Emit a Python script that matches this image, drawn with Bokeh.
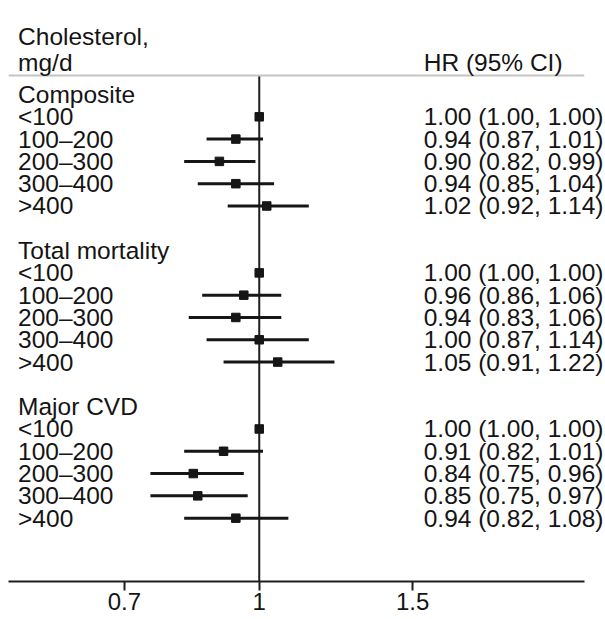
from bokeh.plotting import figure
from bokeh.models import Range1d, FixedTicker, Span, ColumnDataSource
from bokeh.core.properties import value
from bokeh.embed import file_html
from bokeh.resources import INLINE

# ---- data ----
groups = ["Composite", "Total mortality", "Major CVD"]
levels = ["<100", "100–200", "200–300", "300–400", ">400"]
hr_composite = [1.00, 0.94, 0.90, 0.94, 1.02]
lo_composite = [1.00, 0.87, 0.82, 0.85, 0.92]
hi_composite = [1.00, 1.01, 0.99, 1.04, 1.14]
hr_mortality = [1.00, 0.96, 0.94, 1.00, 1.05]
lo_mortality = [1.00, 0.86, 0.83, 0.87, 0.91]
hi_mortality = [1.00, 1.06, 1.06, 1.14, 1.22]
hr_cvd = [1.00, 0.91, 0.84, 0.85, 0.94]
lo_cvd = [1.00, 0.82, 0.75, 0.75, 0.82]
hi_cvd = [1.00, 1.01, 0.96, 0.97, 1.08]
x_ticks = [0.7, 1, 1.5]
tick_labels = ["0.7", "1", "1.5"]
header_left = ["Cholesterol,", "mg/d"]
header_right = "HR (95% CI)"

series = [(hr_composite, lo_composite, hi_composite),
          (hr_mortality, lo_mortality, hi_mortality),
          (hr_cvd, lo_cvd, hi_cvd)]

# ---- layout constants ----
FONT = "Liberation Sans"
FS = "24.5px"
TXT = "#141414"
LEFT_X = 0.5286     # x position (data) of left label column
RIGHT_X = 1.5445    # x position (data) of HR column
LINE_Y = -0.85      # header rule
Y_BOTTOM = 21.84
Y_TOP = -4.215

# build rows
title_y, title_txt = [], []
lvl_y, lvl_txt, hr_v, lo_v, hi_v, hr_txt = [], [], [], [], [], []
for g, name in enumerate(groups):
    base = 7 * g
    title_y.append(base)
    title_txt.append(name)
    hr, lo, hi = series[g]
    for i, lv in enumerate(levels):
        lvl_y.append(base + 1 + i)
        lvl_txt.append(lv)
        hr_v.append(hr[i]); lo_v.append(lo[i]); hi_v.append(hi[i])
        hr_txt.append(f"{hr[i]:.2f} ({lo[i]:.2f}, {hi[i]:.2f})")

rows = ColumnDataSource(dict(y=lvl_y, lab=lvl_txt, hr=hr_v, lo=lo_v, hi=hi_v,
                             hrt=hr_txt, lx=[LEFT_X] * len(lvl_y), rx=[RIGHT_X] * len(lvl_y)))
titles = ColumnDataSource(dict(y=title_y, lab=title_txt, lx=[LEFT_X] * len(title_y)))

p = figure(width=605, height=619, x_axis_type="log",
           x_range=Range1d(0.5154, 2.3626), y_range=Range1d(Y_BOTTOM, Y_TOP),
           output_backend="svg", toolbar_location=None,
           min_border_left=8, min_border_right=21, min_border_top=0, min_border_bottom=38)
p.outline_line_color = None
p.grid.visible = False
p.yaxis.visible = False
p.background_fill_color = "white"
p.border_fill_color = "white"

ax = p.xaxis[0]
ax.ticker = FixedTicker(ticks=x_ticks)
ax.major_label_overrides = {t: l for t, l in zip(x_ticks, tick_labels)}
ax.minor_tick_line_color = None
ax.major_tick_out = 9
ax.major_tick_in = 0
ax.major_tick_line_width = 2
ax.axis_line_width = 2
ax.axis_line_color = "#1e1e1e"
ax.major_tick_line_color = "#1e1e1e"
ax.major_label_text_font = FONT
ax.major_label_text_font_size = "24px"
ax.major_label_text_color = TXT
ax.major_label_standoff = 2

# header rule
p.add_layout(Span(location=LINE_Y, dimension="width", line_color="#c4c4c4", line_width=2))
# reference line at HR = 1
p.segment(x0=[1], x1=[1], y0=[LINE_Y], y1=[Y_BOTTOM], line_color="#1e1e1e", line_width=2)

# CIs and points
p.segment(x0="lo", x1="hi", y0="y", y1="y", source=rows, line_color="#161616", line_width=3)
p.scatter(x="hr", y="y", source=rows, marker="square", size=8.5,
          fill_color="#161616", line_color="#161616")

# texts
common = dict(text_font=value(FONT), text_font_size=FS, text_color=TXT,
              text_baseline="middle", level="overlay")
p.text(x="lx", y="y", text="lab", source=rows, text_align="left", **common)
p.text(x="rx", y="y", text="hrt", source=rows, text_align="left", **common)
p.text(x="lx", y="y", text="lab", source=titles, text_align="left", **common)
p.text(x=[LEFT_X, LEFT_X], y=[-2.6, -1.45], text=header_left, text_align="left", **common)
p.text(x=[RIGHT_X], y=[-1.45], text=[header_right], text_align="left", **common)

open("out.html", "w").write(file_html(p, INLINE))
